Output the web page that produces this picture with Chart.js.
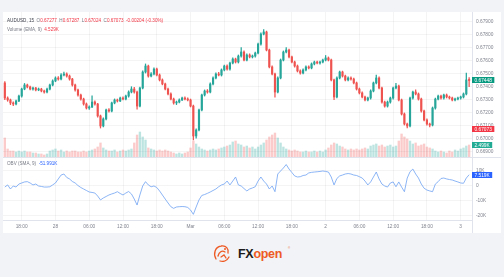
<!DOCTYPE html>
<html><head><meta charset="utf-8">
<script src="https://cdn.jsdelivr.net/npm/chart.js@4.4.1/dist/chart.umd.min.js"></script>
<style>
html,body{margin:0;padding:0}
body{width:504px;height:277px;overflow:hidden;position:relative;background:#f1f3f6;font-family:"Liberation Sans",Arial,sans-serif}
#panel{position:absolute;left:3px;top:12px;width:498px;height:221px;background:#fff}
canvas{position:absolute;left:3px}
.lg{position:absolute;left:7px;font-size:4.6px;line-height:5px;white-space:nowrap;color:#787b86}
.r{color:#f23645}
.b{color:#2962ff}
#logo{position:absolute;left:212px;top:243px}
</style></head><body>
<div id="panel"></div>
<canvas id="cp" width="498" height="145" style="top:12px"></canvas>
<canvas id="co" width="498" height="76" style="top:157px"></canvas>
<div class="lg" style="top:18.3px"><span style="color:#3a3e4a">AUDUSD, 15</span>&nbsp; O<span class="r">0.67277</span>&nbsp; H<span class="r">0.67287</span>&nbsp; L<span class="r">0.67024</span>&nbsp; C<span class="r">0.67073</span>&nbsp; <span class="r">-0.00204 (-0.30%)</span></div>
<div class="lg" style="top:26.5px">Volume (EMA, 9)&nbsp; <span class="r">4.529K</span></div>
<div class="lg" style="top:160.8px">OBV (SMA, 9)&nbsp; <span class="b">-51.991K</span></div>
<svg id="logo" width="90" height="22" viewBox="0 0 90 22">
  <g fill="none" stroke="#ee5a24" stroke-width="1.3" stroke-linecap="round">
    <path d="M4 16 C1 11 3 4 9 3 C14 2 17 6 16 10"/>
    <path d="M6 13 C7 9 10 7 13 9"/>
    <path d="M8 18 C11 19 15 18 17 14"/>
    <path d="M9 14 L12 12 L14 15"/>
  </g>
  <circle cx="13" cy="6" r="1" fill="#ee5a24"/>
  <text x="26" y="15" font-family="Liberation Sans, Arial, sans-serif" font-weight="bold" font-size="12.5" letter-spacing="-0.3"><tspan fill="#1b1b1b">FX</tspan><tspan fill="#ee5a24">open</tspan></text>
  <text x="76" y="6" font-family="Liberation Sans, Arial, sans-serif" font-size="3" fill="#ee5a24">®</text>
</svg>
<script>
// ---- data (prices in 1e-5 units, i.e. 67277 = 0.67277), 30-minute candles from Feb 27 15:00
const opens = [
67429,67313,67298,67275,67267,67290,67328,67382,67413,67398,
67382,67390,67375,67382,67367,67359,67382,67413,67444,67467,
67459,67490,67498,67482,67459,67413,67375,67336,67305,67267,
67236,67244,67282,67267,67175,67098,67152,67221,67213,67275,
67298,67290,67313,67305,67328,67359,67382,67359,67251,67390,
67513,67559,67482,67498,67536,67490,67452,67421,67382,67344,
67305,67275,67282,67298,67313,67305,67298,67251,67021,67067,
67221,67336,67367,67359,67421,67467,67498,67490,67529,67559,
67536,67582,67613,67590,67636,67667,67605,67644,67629,67636,
67659,67728,67805,67821,67682,67552,67498,67359,67467,67605,
67667,67682,67629,67590,67559,67521,67505,67529,67552,67544,
67575,67590,67582,67590,67605,67621,67605,67452,67321,67467,
67513,67482,67452,67467,67459,67429,67382,67352,67321,67298,
67313,67367,67429,67467,67390,67282,67251,67282,67313,67390,
67405,67298,67190,67113,67098,67313,67359,67344,67305,67213,
67144,67113,67105,67236,67305,67328,67313,67336,67321,67313,
67298,67305,67313,67321,67344,67452];
const highs = [
67440,67322,67305,67284,67298,67336,67390,67425,67420,67405,
67398,67396,67390,67388,67374,67390,67420,67452,67476,67478,
67500,67512,67506,67490,67465,67420,67382,67344,67312,67275,
67252,67330,67292,67272,67182,67160,67228,67232,67282,67306,
67305,67320,67322,67336,67368,67400,67395,67366,67398,67522,
67575,67566,67508,67545,67544,67498,67460,67428,67390,67352,
67312,67290,67306,67320,67322,67314,67305,67258,67075,67228,
67344,67375,67378,67430,67475,67506,67510,67537,67567,67568,
67590,67622,67620,67644,67700,67675,67652,67652,67644,67667,
67736,67814,67840,67828,67690,67560,67505,67475,67613,67675,
67700,67690,67636,67598,67567,67529,67537,67560,67560,67583,
67598,67598,67598,67613,67640,67629,67612,67459,67475,67521,
67520,67490,67475,67475,67467,67436,67390,67360,67328,67321,
67375,67436,67490,67475,67398,67290,67290,67320,67398,67425,
67413,67305,67198,67121,67321,67367,67375,67352,67313,67221,
67152,67121,67244,67313,67336,67336,67344,67344,67328,67321,
67313,67321,67328,67352,67505,67470];
const lows = [
67300,67288,67262,67255,67259,67284,67320,67376,67390,67375,
67374,67368,67369,67360,67350,67352,67376,67406,67438,67450,
67452,67482,67474,67450,67405,67366,67328,67296,67258,67228,
67226,67238,67258,67166,67082,67090,67144,67205,67206,67268,
67282,67284,67298,67298,67320,67352,67350,67228,67244,67382,
67505,67474,67475,67490,67482,67444,67414,67375,67336,67298,
67266,67262,67276,67292,67298,67290,67244,66990,67005,67060,
67214,67328,67350,67352,67414,67460,67482,67482,67521,67528,
67528,67575,67582,67582,67628,67598,67598,67621,67621,67628,
67652,67720,67798,67675,67544,67490,67320,67352,67460,67598,
67660,67621,67582,67551,67513,67497,67498,67521,67536,67537,
67567,67575,67574,67582,67598,67598,67444,67300,67313,67459,
67474,67444,67444,67451,67421,67374,67344,67313,67290,67290,
67305,67360,67421,67382,67274,67243,67243,67274,67305,67382,
67290,67182,67105,67082,67090,67305,67336,67297,67205,67136,
67105,67090,67098,67228,67298,67305,67305,67313,67305,67290,
67290,67298,67305,67313,67336,67400];
const closes = [
67313,67298,67275,67267,67290,67328,67382,67413,67398,67382,
67390,67375,67382,67367,67359,67382,67413,67444,67467,67459,
67490,67498,67482,67459,67413,67375,67336,67305,67267,67236,
67244,67282,67267,67175,67098,67152,67221,67213,67275,67298,
67290,67313,67305,67328,67359,67382,67359,67251,67390,67513,
67559,67482,67498,67536,67490,67452,67421,67382,67344,67305,
67275,67282,67298,67313,67305,67298,67251,67021,67067,67221,
67336,67367,67359,67421,67467,67498,67490,67529,67559,67536,
67582,67613,67590,67636,67667,67605,67644,67629,67636,67659,
67728,67805,67821,67682,67552,67498,67359,67467,67605,67667,
67682,67629,67590,67559,67521,67505,67529,67552,67544,67575,
67590,67582,67590,67605,67621,67605,67452,67321,67467,67513,
67482,67452,67467,67459,67429,67382,67352,67321,67298,67313,
67367,67429,67467,67390,67282,67251,67282,67313,67390,67405,
67298,67190,67113,67098,67313,67359,67344,67305,67213,67144,
67113,67105,67236,67305,67328,67313,67336,67321,67313,67298,
67305,67313,67321,67344,67452,67448];
// volume in thousands
const volumes = [
3.96,1.67,1.25,1.25,1.04,1.25,1.04,1.25,1.04,1.04,
0.83,0.83,0.63,0.63,0.42,0.63,1.25,1.46,1.67,1.25,
1.46,1.04,1.25,1.04,1.25,1.25,1.04,1.04,1.25,1.04,
1.25,1.46,1.67,2.08,2.92,1.88,1.46,1.25,1.25,1.46,
1.04,1.25,1.46,1.25,1.46,1.67,2.92,4.58,5.21,4.17,
3.54,1.88,1.67,1.46,1.25,1.46,1.25,1.46,1.25,1.04,
0.83,0.63,0.83,0.63,0.83,1.04,1.88,3.33,2.71,2.08,
1.67,1.46,1.25,1.46,1.67,1.46,1.67,1.88,2.08,2.29,
2.5,3.13,3.33,2.71,2.5,2.08,2.29,1.88,2.08,1.67,
2.08,2.5,2.92,3.54,4.17,4.58,5.0,3.96,2.92,2.08,
1.67,1.46,1.25,1.46,1.25,1.04,1.04,1.25,1.04,1.04,
1.25,1.04,1.25,1.04,1.46,1.88,2.5,2.92,2.71,2.29,
2.08,1.67,1.46,1.67,1.46,1.67,1.46,1.67,1.88,1.67,
2.29,2.5,2.71,2.29,2.5,2.08,2.29,2.5,2.08,2.29,
3.33,4.79,4.17,3.75,3.33,2.71,2.92,2.29,2.5,2.71,
2.08,1.88,1.67,1.25,1.04,1.25,1.04,0.83,1.25,1.04,
1.46,1.25,1.67,1.88,2.29,2.5];
// OBV in thousands
const obv = [
-0.7,0.7,-2,0,-0.7,1.3,2,2.7,2.9,2,
0.7,1.3,0,-0.3,-0.7,-0.7,-0.5,0.7,2,4.7,
7.3,8,5.7,4.7,3,2,0.3,-1,-2,-3,
-4,-4.3,-4.7,-6.7,-9.3,-8,-7,-6,-5.3,-4.7,
-3.8,-5,-6,-4.7,-3.7,-5.3,-8.7,-12.7,-6,0,
2.9,0.7,-0.5,0,-1,-3.3,-6,-8.7,-11.3,-13.8,
-14.9,-14,-13.8,-13.7,-13.8,-14.3,-16,-18.9,-14,-9.3,
-6.3,-5.7,-4.9,-4,-3,-2,-0.5,0.7,1.3,3.3,
0.7,3.3,6,0.7,0,-1.7,-3.3,-2,-1.3,-0.5,
3.3,6,3.3,1.3,-2,0,-3.8,8,10,12,
14.3,11.3,9,6.7,6,6.2,7,7.3,8.7,9.1,
9.3,9.5,9.7,10,9.7,9.3,6,0.7,5,6.7,
7.3,8,8.3,8,7.3,7,6.2,5.3,3.3,0.7,
2.7,6,9.3,4.7,1.3,0,-0.7,2,2.7,-0.5,
2.7,-0.7,-3.8,5.3,9.5,11.3,8,5.3,1.3,-1.5,
-2.7,-3.3,-3.8,1.3,2.9,5,5.3,4.7,4.3,4,
3.3,2.7,2,1.8,5.3,7.519];
const tickLabels = ['18:00','28','06:00','12:00','18:00','Mar','06:00','12:00','18:00','2','06:00','12:00','18:00','3'];
const tickIndex  = [6,18,30,42,54,66,78,90,102,114,126,138,150,162];
const priceTicks = [66900,67000,67100,67200,67300,67400,67500,67600,67700,67800,67900];
const obvTicks   = [10,0,-10,-20];
const lastPrice = 67448, redPrice = 67073, lastVolume = 2.499, lastObv = 7.519;

// ---- styling
const UP = '#26a69a', DN = '#ef5350';
const GRID = 'rgba(42,46,57,0.05)';
const SEP = '#e0e3eb';
const TXT = '#80848f';
const FONT = {family:'"Liberation Sans", Arial, sans-serif', size:4.8};
const X_MIN = -0.645, X_MAX = 166.02;
const P_MIN = 66859.2, P_MAX = 67974.6;

const xs = closes.map((_, i) => i);
const isUp = closes.map((c, i) => c >= opens[i]);
const candleColor = isUp.map(u => u ? UP : DN);
const volColor = isUp.map(u => u ? 'rgba(38,166,154,0.3)' : 'rgba(239,83,80,0.3)');

function fixPad(s){ s.paddingTop = 0; s.paddingBottom = 0; s.paddingLeft = 0; s.paddingRight = 0; }

function boxesPlugin(list, sepTop){
  return {
    id: 'boxes',
    afterDraw(chart){
      const ctx = chart.ctx, a = chart.chartArea, H = chart.height, W = chart.width;
      ctx.save();
      ctx.strokeStyle = SEP; ctx.lineWidth = 1;
      ctx.beginPath(); ctx.moveTo(a.right + 0.5, 0); ctx.lineTo(a.right + 0.5, H); ctx.stroke();
      if (sepTop){ ctx.beginPath(); ctx.moveTo(0, 0.5); ctx.lineTo(W, 0.5); ctx.stroke(); }
      ctx.font = '4.8px "Liberation Sans", Arial, sans-serif';
      ctx.textBaseline = 'middle'; ctx.textAlign = 'left';
      list.forEach(b => {
        const y = chart.scales[b.axis].getPixelForValue(b.value);
        const w = ctx.measureText(b.text).width + 5;
        ctx.fillStyle = b.color;
        ctx.fillRect(a.right, Math.round(y) - 3, w, 6);
        ctx.fillStyle = '#ffffff';
        ctx.fillText(b.text, a.right + 2.5, Math.round(y) + 0.2);
      });
      ctx.restore();
    }
  };
}

new Chart(document.getElementById('cp'), {
  type: 'bar',
  data: { datasets: [
    { data: xs.map(i => ({x:i, y:[Math.min(opens[i], closes[i]), Math.max(opens[i], closes[i])]})),
      backgroundColor: candleColor, barThickness: 1.5, minBarLength: 1, grouped: false, order: 1, yAxisID: 'y' },
    { data: xs.map(i => ({x:i, y:[lows[i], highs[i]]})),
      backgroundColor: candleColor, barThickness: 0.6, grouped: false, order: 2, yAxisID: 'y' },
    { data: xs.map(i => ({x:i, y:volumes[i]})),
      backgroundColor: volColor, barThickness: 1.7, grouped: false, order: 3, yAxisID: 'yv' }
  ]},
  options: {
    responsive: false, animation: false, events: [],
    layout: { padding: 0 },
    plugins: { legend: {display:false}, tooltip: {enabled:false} },
    scales: {
      x: { type:'linear', min:X_MIN, max:X_MAX, offset:false,
           ticks:{display:false}, grid:{color:GRID, drawTicks:false, offset:false}, border:{display:false},
           afterBuildTicks: s => { s.ticks = tickIndex.map(v => ({value:v})); },
           afterFit: s => { s.height = 0; fixPad(s); } },
      y: { position:'right', min:P_MIN, max:P_MAX, beginAtZero:false,
           ticks:{color:TXT, font:FONT, padding:4, callback: v => (v/100000).toFixed(5)},
           grid:{color:GRID, drawTicks:false}, border:{display:false},
           afterBuildTicks: s => { s.ticks = priceTicks.map(v => ({value:v})); },
           afterFit: s => { s.width = 29; fixPad(s); } },
      yv: { display:false, min:0, max:30.2 }
    }
  },
  plugins: [ boxesPlugin([
    {axis:'y', value:lastPrice, text:(lastPrice/100000).toFixed(5), color:'#089981'},
    {axis:'y', value:redPrice, text:(redPrice/100000).toFixed(5), color:'#f23645'},
    {axis:'yv', value:lastVolume, text:lastVolume.toFixed(3)+'K', color:'#22ab94'}
  ], false) ]
});

new Chart(document.getElementById('co'), {
  type: 'line',
  data: { datasets: [
    { data: xs.map(i => ({x:i, y:obv[i]})), borderColor:'#6ea2f2', borderWidth:0.8,
      pointRadius:0, tension:0, fill:false }
  ]},
  options: {
    responsive: false, animation: false, events: [],
    layout: { padding: 0 },
    plugins: { legend: {display:false}, tooltip: {enabled:false} },
    scales: {
      x: { type:'linear', min:X_MIN, max:X_MAX, offset:false,
           ticks:{color:TXT, font:FONT, padding:3.5, maxRotation:0, autoSkip:false,
                  callback: v => { const k = tickIndex.indexOf(v); return k >= 0 ? tickLabels[k] : ''; }},
           grid:{color:GRID, drawTicks:false}, border:{display:true, color:SEP},
           afterBuildTicks: s => { s.ticks = tickIndex.map(v => ({value:v})); },
           afterFit: s => { s.height = 13; fixPad(s); } },
      y: { position:'right', min:-22.67, max:19.33,
           ticks:{color:TXT, font:FONT, padding:4, callback: v => v === 0 ? '0' : v + 'K'},
           grid:{color:GRID, drawTicks:false}, border:{display:false},
           afterBuildTicks: s => { s.ticks = obvTicks.map(v => ({value:v})); },
           afterFit: s => { s.width = 29; fixPad(s); } }
    }
  },
  plugins: [ boxesPlugin([
    {axis:'y', value:lastObv, text:lastObv.toFixed(3)+'K', color:'#2962ff'}
  ], true) ]
});
</script>
</body></html>
